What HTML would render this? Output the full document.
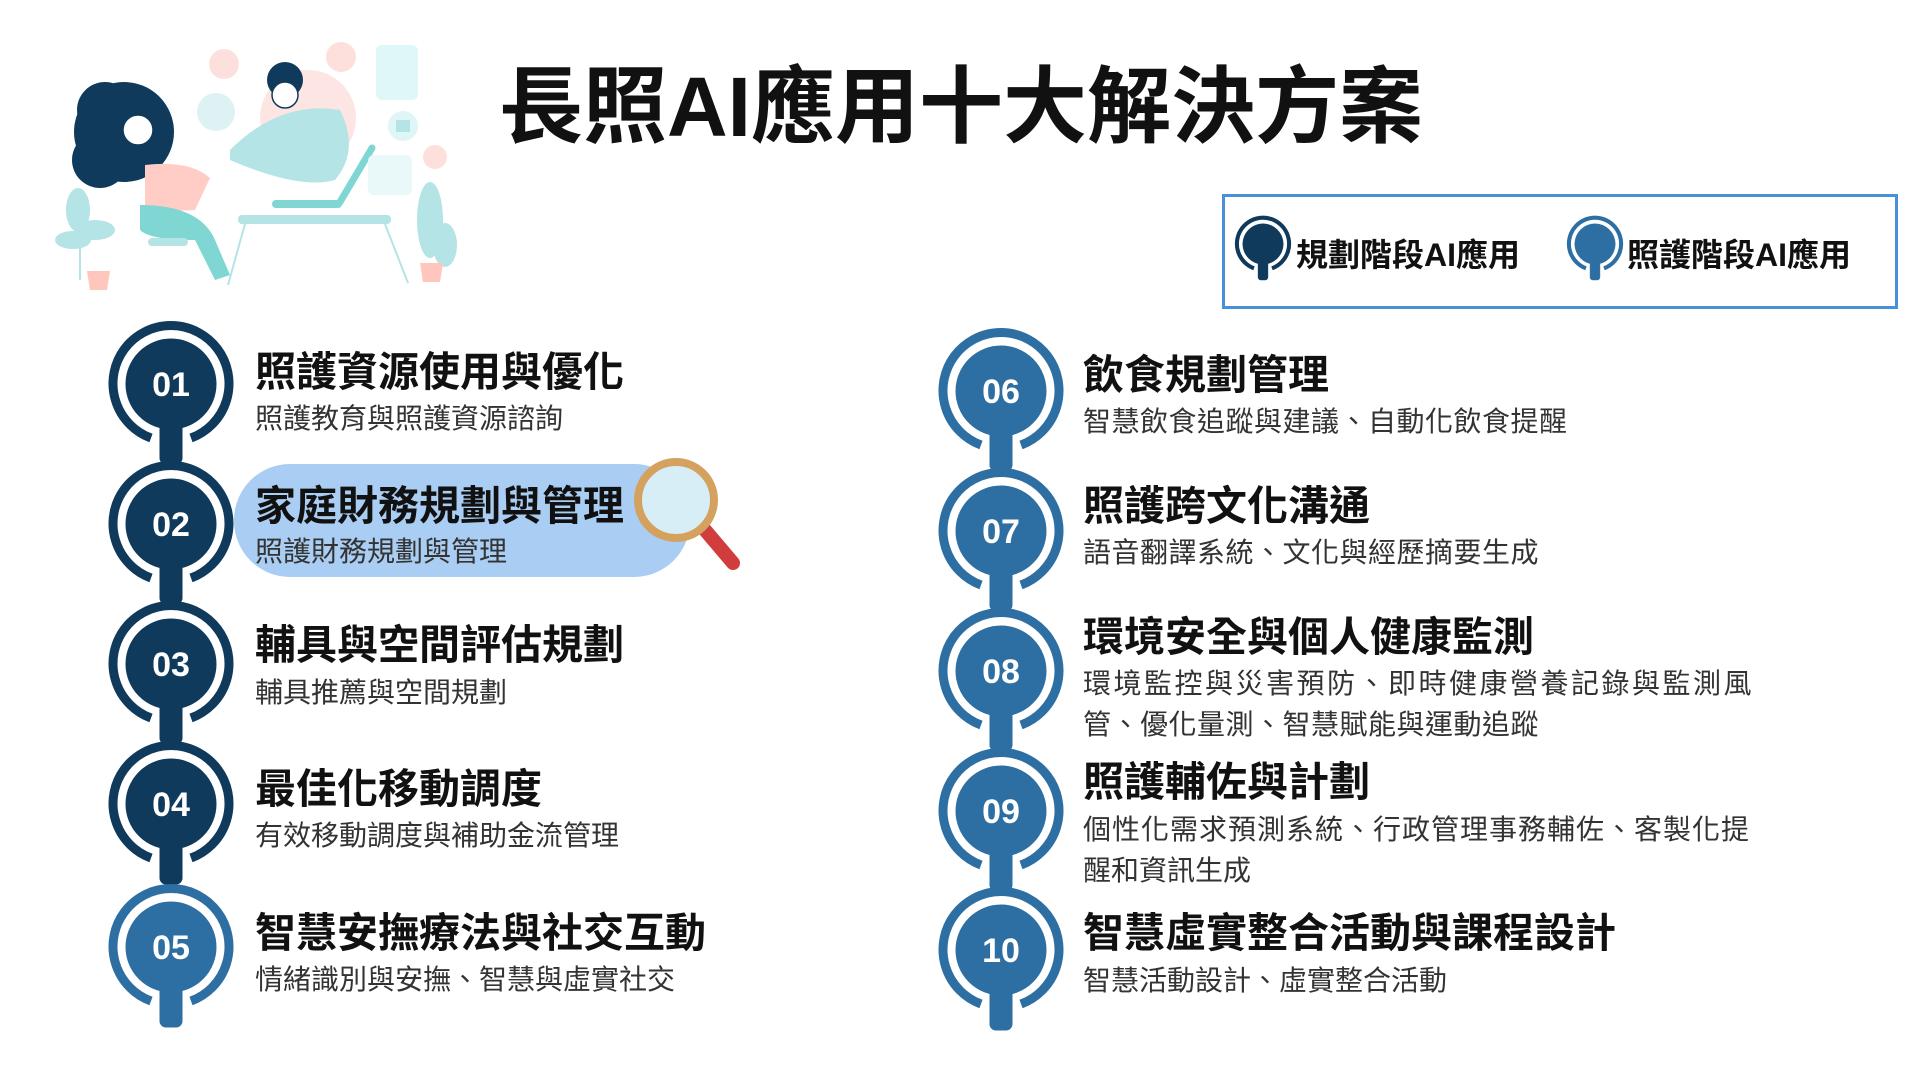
<!DOCTYPE html>
<html><head><meta charset="utf-8"><style>
html,body{margin:0;padding:0;background:#fff;}
body{width:1920px;height:1080px;position:relative;overflow:hidden;font-family:"Liberation Sans","Noto Sans CJK TC",sans-serif;}
.t{position:absolute;white-space:nowrap;color:#111;}
.h{font-size:41px;font-weight:bold;line-height:1;}
.s{font-size:28px;color:#333;line-height:1;}
svg{position:absolute;left:0;top:0;}
</style></head><body>
<svg width="1920" height="1080" viewBox="0 0 1920 1080">
<defs>
<g id="pin">
 <path d="M-20,54 A58,58 0 1 1 20,54" fill="none" stroke-width="9"/>
 <circle r="45"/>
 <rect x="-11" y="20" width="22" height="60" rx="6"/>
</g>
</defs>
<!-- illustration -->
<g>
 <circle cx="308" cy="118" r="48" fill="#fde5e3"/>
 <path d="M230,150 Q280,100 340,110 Q360,150 335,180 Q300,190 230,160 Z" fill="#b4e4e6"/>
 <circle cx="285" cy="80" r="18" fill="#0f3a5c"/>
 <circle cx="285" cy="95" r="13" fill="#fff" stroke="#0f3a5c" stroke-width="1.5"/>
 <circle cx="124" cy="132" r="50" fill="#0f3a5c"/>
 <circle cx="105" cy="110" r="28" fill="#0f3a5c"/>
 <circle cx="100" cy="160" r="28" fill="#0f3a5c"/>
 <circle cx="138" cy="130" r="15" fill="#fff" stroke="#0f3a5c" stroke-width="1.5"/>
 <path d="M145,165 Q190,160 210,178 L195,210 Q165,212 145,205 Z" fill="#ffcdc5"/>
 <path d="M140,205 Q200,205 215,240 L230,275 L215,280 L195,240 Q150,240 140,230 Z" fill="#7fd6d2"/>
 <rect x="148" y="238" width="40" height="8" rx="4" fill="#b4e4e6"/>
 <rect x="238" y="215" width="153" height="9" rx="4" fill="#b4e4e6"/>
 <line x1="245" y1="224" x2="228" y2="285" stroke="#b4e4e6" stroke-width="2"/>
 <line x1="385" y1="224" x2="408" y2="283" stroke="#b4e4e6" stroke-width="2"/>
 <rect x="272" y="200" width="70" height="8" rx="4" fill="#7fd6d2"/>
 <line x1="340" y1="202" x2="372" y2="148" stroke="#7fd6d2" stroke-width="7" stroke-linecap="round"/>
 <rect x="376" y="45" width="42" height="55" rx="6" fill="#e0f7f7"/>
 <circle cx="403" cy="126" r="15" fill="#e0f5f5"/><rect x="396" y="120" width="14" height="12" fill="#b4e4e6"/>
 <rect x="368" y="155" width="44" height="40" rx="6" fill="#e9f9f9"/>
 <circle cx="435" cy="157" r="12" fill="#fde0dc"/>
 <circle cx="341" cy="57" r="15" fill="#fde0dc"/>
 <circle cx="224" cy="64" r="15" fill="#fde0dc"/>
 <circle cx="216" cy="112" r="19" fill="#dff2f3"/>
 <path d="M80,280 L80,210" stroke="#b4e4e6" stroke-width="2"/>
 <ellipse cx="78" cy="210" rx="12" ry="22" fill="#b4e4e6"/>
 <ellipse cx="95" cy="230" rx="20" ry="10" fill="#b4e4e6"/>
 <ellipse cx="73" cy="240" rx="18" ry="9" fill="#b4e4e6"/>
 <path d="M87,271 L110,271 L107,290 L90,290 Z" fill="#ffc6bd"/>
 <ellipse cx="430" cy="220" rx="13" ry="38" fill="#b4e4e6"/>
 <ellipse cx="445" cy="245" rx="12" ry="22" fill="#b4e4e6"/>
 <path d="M420,263 L443,263 L440,282 L423,282 Z" fill="#ffc6bd"/>
</g>
<!-- legend -->
<rect x="1223.5" y="195.5" width="673" height="112" fill="#fff" stroke="#4a90d9" stroke-width="3"/>
<g transform="translate(1263,244) scale(0.45)" fill="#0f3a5c" stroke="#0f3a5c"><use href="#pin"/></g>
<g transform="translate(1595,244) scale(0.45)" fill="#2e6fa3" stroke="#2e6fa3"><use href="#pin"/></g>
<!-- left pins -->
<g fill="#0f3a5c" stroke="#0f3a5c">
 <use href="#pin" x="171" y="384"/><use href="#pin" x="171" y="524"/><use href="#pin" x="171" y="664"/><use href="#pin" x="171" y="804"/>
</g>
<g fill="#2e6fa3" stroke="#2e6fa3"><use href="#pin" x="171" y="947"/></g>
<!-- highlight pill -->
<rect x="234" y="464" width="456" height="113" rx="56" fill="#a9cdf3"/>
<!-- right pins -->
<g fill="#2e6fa3" stroke="#2e6fa3">
 <use href="#pin" x="1001" y="391"/><use href="#pin" x="1001" y="531"/><use href="#pin" x="1001" y="671"/><use href="#pin" x="1001" y="811"/><use href="#pin" x="1001" y="950"/>
</g>
<!-- magnifier -->
<line x1="705" y1="530" x2="733" y2="563" stroke="#d13c3c" stroke-width="14" stroke-linecap="round"/>
<circle cx="676" cy="500" r="38" fill="#d7eef7" stroke="#d4a15e" stroke-width="8"/>
<!-- numbers -->
<g font-family="Liberation Sans,sans-serif" font-weight="bold" font-size="34" fill="#fff" text-anchor="middle">
 <text x="171" y="396">01</text><text x="171" y="536">02</text><text x="171" y="676">03</text><text x="171" y="816">04</text><text x="171" y="959">05</text>
 <text x="1001" y="403">06</text><text x="1001" y="543">07</text><text x="1001" y="683">08</text><text x="1001" y="823">09</text><text x="1001" y="962">10</text>
</g>
</svg>
<div class="t" style="left:499px;top:40px;font-size:84px;font-weight:bold;">長照AI應用十大解決方案</div>
<div class="t" style="left:1296px;top:230px;font-size:32px;font-weight:bold;">規劃階段AI應用</div>
<div class="t" style="left:1627px;top:230px;font-size:32px;font-weight:bold;">照護階段AI應用</div>

<div class="t h" style="left:255px;top:352px;">照護資源使用與優化</div>
<div class="t s" style="left:255px;top:405px;">照護教育與照護資源諮詢</div>
<div class="t h" style="left:255px;top:486px;">家庭財務規劃與管理</div>
<div class="t s" style="left:255px;top:538px;">照護財務規劃與管理</div>
<div class="t h" style="left:255px;top:625px;">輔具與空間評估規劃</div>
<div class="t s" style="left:255px;top:679px;">輔具推薦與空間規劃</div>
<div class="t h" style="left:255px;top:769px;">最佳化移動調度</div>
<div class="t s" style="left:255px;top:822px;">有效移動調度與補助金流管理</div>
<div class="t h" style="left:255px;top:913px;">智慧安撫療法與社交互動</div>
<div class="t s" style="left:255px;top:966px;">情緒識別與安撫、智慧與虛實社交</div>

<div class="t h" style="left:1083px;top:355px;">飲食規劃管理</div>
<div class="t s" style="left:1083px;top:408px;letter-spacing:0.5px;">智慧飲食追蹤與建議、自動化飲食提醒</div>
<div class="t h" style="left:1083px;top:486px;">照護跨文化溝通</div>
<div class="t s" style="left:1083px;top:539px;letter-spacing:0.5px;">語音翻譯系統、文化與經歷摘要生成</div>
<div class="t h" style="left:1083px;top:617px;">環境安全與個人健康監測</div>
<div class="t s" style="left:1083px;top:670px;letter-spacing:2.5px;">環境監控與災害預防、即時健康營養記錄與監測風</div>
<div class="t s" style="left:1083px;top:711px;letter-spacing:0.5px;">管、優化量測、智慧賦能與運動追蹤</div>
<div class="t h" style="left:1083px;top:762px;">照護輔佐與計劃</div>
<div class="t s" style="left:1083px;top:816px;letter-spacing:1px;">個性化需求預測系統、行政管理事務輔佐、客製化提</div>
<div class="t s" style="left:1083px;top:857px;">醒和資訊生成</div>
<div class="t h" style="left:1083px;top:913px;">智慧虛實整合活動與課程設計</div>
<div class="t s" style="left:1083px;top:967px;">智慧活動設計、虛實整合活動</div>
</body></html>
